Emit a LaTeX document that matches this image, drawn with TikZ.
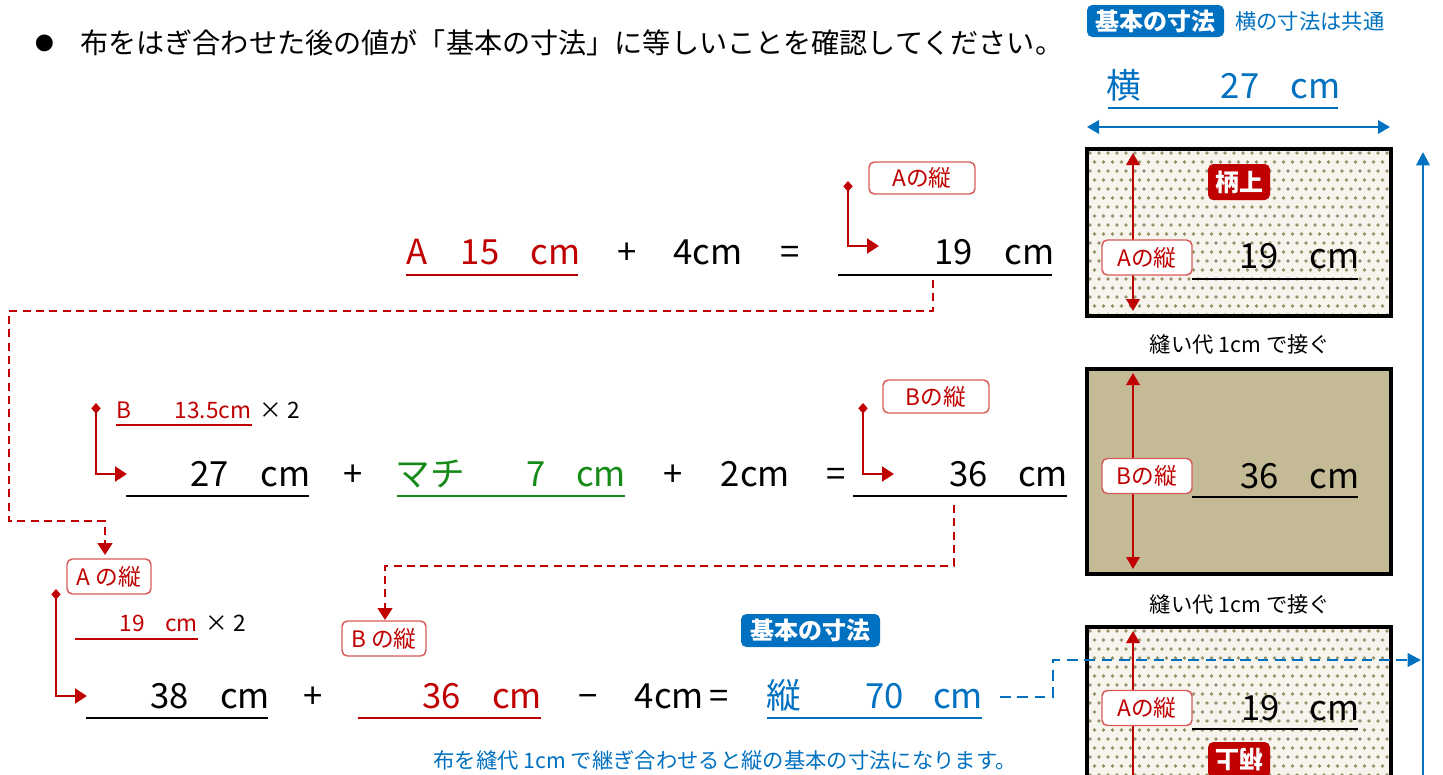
\documentclass[tikz,border=0pt]{standalone}
\usepackage{fontspec}
\setmainfont{Noto Sans CJK JP}
\usetikzlibrary{arrows.meta}
\definecolor{myred}{HTML}{C00000}
\definecolor{lblred}{HTML}{D85A5A}
\definecolor{mygreen}{HTML}{168A16}
\definecolor{myblue}{HTML}{0070C0}
\definecolor{fabrictan}{HTML}{C4BB96}
\definecolor{dotbg}{HTML}{F6F4EC}
\definecolor{dotfg}{HTML}{9A926C}
\newcommand\fmain{\fontsize{26}{30}\selectfont}
\newcommand\fsm{\fontsize{17}{20}\selectfont}
\newcommand\flab{\fontsize{17}{20}\selectfont}
\newcommand\ftitle{\fontsize{21.1}{24}\selectfont}
\newcommand\fnote{\fontsize{16}{19}\selectfont}
\newcommand\fbadge{\fontsize{18}{21}\selectfont\bfseries}
\newcommand\dotarea[4]{%
  \begin{scope}
    \clip (#1,#2) rectangle (#3,#4);
    \fill[dotbg] (#1,#2) rectangle (#3,#4);
    \foreach \j in {0,...,19} {
      \foreach \i in {0,...,34} {
        \pgfmathsetmacro\xx{#1+3+9*\i+4.5*mod(\j,2)}
        \pgfmathsetmacro\yy{#2+4+9*\j}
        \fill[dotfg] (\xx,\yy) circle[radius=1.35pt];
      }
    }
  \end{scope}}
\begin{document}
\begin{tikzpicture}[x=0.75pt,y=-0.75pt,
  t/.style={inner sep=0pt, anchor=base, font=\fmain},
  ts/.style={inner sep=0pt, anchor=base, font=\fsm},
  lbl/.style={draw=lblred, line width=1.1pt, fill=white, rounded corners=4pt, text=myred, font=\flab, inner sep=0pt, minimum height=25pt},
  badge/.style={fill=#1, rounded corners=4pt, text=white, font=\fbadge, inner sep=0pt},
  uline/.style={line width=1.9pt},
  thinline/.style={line width=1.1pt},
  ptr/.style={draw=myred, line width=2.2pt, {Diamond[length=8pt,width=7pt]}-{Triangle[length=9pt,width=11pt]}},
  rdash/.style={draw=myred, line width=2pt, dash pattern=on 6pt off 4pt, -{Triangle[length=9pt,width=11pt]}},
  fabric/.style={line width=3pt, draw=black},
  redarrow/.style={draw=myred, line width=1.8pt},
  bluearrow/.style={draw=myblue, line width=1.8pt}
]
\useasboundingbox (0,0) rectangle (1443,775);

% ---------- title ----------
\node[inner sep=0pt, font=\fontsize{14}{16}\selectfont] (bul) at (45,43) {●};
\node[inner sep=0pt, anchor=west, font=\ftitle] (title) at (80,43) {布をはぎ合わせた後の値が「基本の寸法」に等しいことを確認してください。};

% ---------- top right header ----------
\node[badge=myblue, minimum width=102.75pt, minimum height=24pt] (kihon1) at (1155.5,21) {基本の寸法};
\node[inner sep=0pt, anchor=west, font=\fnote, text=myblue] (yokonote) at (1235,21) {横の寸法は共通};
\node[t, text=myblue] (yoko) at (1124,98) {横};
\node[t, text=myblue] (yoko27) at (1240,98) {27};
\node[t, text=myblue] (yokocm) at (1315.5,98) {cm};
\draw[uline, myblue] (1108,108) -- (1338,108);
\coordinate (hl) at (1087,127);
\coordinate (hr) at (1390,127);
\draw[bluearrow, {Triangle[length=9pt,width=10pt]}-{Triangle[length=9pt,width=10pt]}] (hl) -- (hr);

% ---------- fabric box 1 ----------
\dotarea{1087}{149}{1391}{316}
\draw[fabric] (1087,149) rectangle (1391,316);
\coordinate (a1t) at (1133,153);
\coordinate (a1b) at (1133,311);
\draw[redarrow, {Triangle[length=9pt,width=10pt]}-{Triangle[length=9pt,width=10pt]}] (a1t) -- (a1b);
\node[badge=myred, minimum width=46.5pt, minimum height=27pt] (gara1) at (1239,182) {柄上};
\node[lbl, minimum width=67.5pt, minimum height=26.25pt] (lblbox1) at (1147,257.5) {Aの縦};
\node[t, text=black] (b1n) at (1259,268) {19};
\node[t, text=black] (b1u) at (1334.5,268) {cm};
\draw[uline] (1192,279) -- (1358,279);

\node[inner sep=0pt, font=\fnote] (nui1) at (1240,344) {縫い代 1cm で接ぐ};

% ---------- fabric box 2 ----------
\fill[fabrictan] (1087,369) rectangle (1391,574);
\draw[fabric] (1087,369) rectangle (1391,574);
\coordinate (a2t) at (1133,373);
\coordinate (a2b) at (1133,569);
\draw[redarrow, {Triangle[length=9pt,width=10pt]}-{Triangle[length=9pt,width=10pt]}] (a2t) -- (a2b);
\node[lbl, minimum width=67.5pt, minimum height=26.25pt] (lblbox2) at (1147,476) {Bの縦};
\node[t, text=black] (b2n) at (1259.5,488) {36};
\node[t, text=black] (b2u) at (1334.5,488) {cm};
\draw[uline] (1192,497) -- (1358,497);

\node[inner sep=0pt, font=\fnote] (nui2) at (1240,604) {縫い代 1cm で接ぐ};

% ---------- fabric box 3 ----------
\dotarea{1087}{627}{1391}{780}
\begin{scope}
\clip (1080,620) rectangle (1400,775);
\draw[fabric] (1087,627) rectangle (1391,790);
\end{scope}
\coordinate (a3t) at (1133,631);
\coordinate (a3b) at (1133,775);
\draw[redarrow, -{Triangle[length=9pt,width=10pt]}] (a3b) -- (a3t);
\node[lbl, minimum width=67.5pt, minimum height=26.25pt] (lblbox3) at (1147,708) {Aの縦};
\node[t, text=black] (b3n) at (1260.5,720) {19};
\node[t, text=black] (b3u) at (1334.5,720) {cm};
\draw[uline] (1192,729) -- (1358,729);
\begin{scope}
\clip (1080,620) rectangle (1400,775);
\node[badge=myred, minimum width=46.5pt, minimum height=27pt, rotate=180] (gara2) at (1239,760) {柄上};
\end{scope}

% ---------- right blue arrows ----------
\coordinate (vb) at (1423,775);
\coordinate (vt) at (1423,152);
\draw[bluearrow, -{Triangle[length=10pt,width=10pt]}] (vb) -- (vt);

% ---------- row 1 ----------
\node[t, text=myred] (r1a) at (417,264) {A};
\node[t, text=myred] (r1n) at (480,264) {15};
\node[t, text=myred] (r1u) at (555.5,264) {cm};
\draw[uline, myred] (406,275) -- (578,275);
\node[t] (r1p) at (627,264) {+};
\node[t] (r1four) at (708,264) {4cm};
\node[t] (r1eq) at (790,264) {=};
\node[t] (r1rn) at (953.5,264) {19};
\node[t] (r1ru) at (1029.5,264) {cm};
\draw[uline] (838,275) -- (1052,275);
\node[lbl, minimum width=79.5pt, minimum height=24pt] (lbl1) at (922,178) {Aの縦};
\coordinate (p1s) at (848,181);
\coordinate (p1e) at (879,246);
\draw[ptr] (p1s) |- (p1e);

% ---------- row 2 ----------
\node[ts, text=myred] (r2sb) at (123.5,418) {B};
\node[ts, text=myred] (r2sn) at (213,418) {13.5cm};
\draw[thinline, myred] (116,425) -- (252,425);
\node[ts] (r2sx) at (280,418) {× 2};
\coordinate (p2s) at (96,403);
\coordinate (p2e) at (127,474);
\draw[ptr] (p2s) |- (p2e);
\node[t] (r2n) at (209.5,486) {27};
\node[t] (r2u) at (285.5,486) {cm};
\draw[uline] (126,496) -- (309,496);
\node[t] (r2p1) at (353,486) {+};
\node[t, text=mygreen] (r2m) at (430,486) {マチ};
\node[t, text=mygreen] (r2mn) at (536.5,486) {7};
\node[t, text=mygreen] (r2mu) at (601,486) {cm};
\draw[uline, mygreen] (397,496) -- (625,496);
\node[t] (r2p2) at (673,486) {+};
\node[t] (r2two) at (755.5,486) {2cm};
\node[t] (r2eq) at (836,486) {=};
\node[lbl, minimum width=79.5pt, minimum height=24.75pt] (lbl2) at (936,396.5) {Bの縦};
\coordinate (p3s) at (863,403);
\coordinate (p3e) at (894,474);
\draw[ptr] (p3s) |- (p3e);
\node[t] (r2rn) at (968.5,486) {36};
\node[t] (r2ru) at (1043,486) {cm};
\draw[uline] (853,496) -- (1067,496);

% ---------- row 3 ----------
\node[lbl, minimum width=63pt, minimum height=26.25pt] (lbl3) at (109,576.5) {A の縦};
\node[ts, text=myred] (r3sn) at (132,631) {19};
\node[ts, text=myred] (r3su) at (181.5,631) {cm};
\draw[thinline, myred] (75,639) -- (198,639);
\node[ts] (r3sx) at (226,631) {× 2};
\coordinate (p4s) at (56,589);
\coordinate (p4e) at (87,696);
\draw[ptr] (p4s) |- (p4e);
\node[t] (r3n) at (169.5,708) {38};
\node[t] (r3u) at (245,708) {cm};
\draw[uline] (86,718) -- (268,718);
\node[t] (r3p) at (313,708) {+};
\node[lbl, minimum width=63pt, minimum height=26.25pt] (lbl4) at (384,638.5) {B の縦};
\node[t, text=myred] (r3bn) at (441.5,708) {36};
\node[t, text=myred] (r3bu) at (517,708) {cm};
\draw[uline, myred] (358,718) -- (541,718);
\node[t] (r3m) at (588,708) {−};
\node[t] (r3four) at (669.5,708) {4cm};
\node[t] (r3eq) at (719.5,708) {=};
\node[badge=myblue, minimum width=104.25pt, minimum height=24.75pt] (kihon2) at (810.5,630.5) {基本の寸法};
\node[t, text=myblue] (r3tate) at (784,708) {縦};
\node[t, text=myblue] (r3tn) at (884.5,708) {70};
\node[t, text=myblue] (r3tu) at (958,708) {cm};
\draw[uline, myblue] (767,718) -- (982,718);
\node[inner sep=0pt, font=\fnote, text=myblue] (note) at (725,760) {布を縫代 1cm で継ぎ合わせると縦の基本の寸法になります。};

% ---------- dashed connectors ----------
\coordinate (d1s) at (933,280);
\coordinate (d1e) at (105,555);
\draw[rdash] (d1s) -- (933,311) -- (9,311) -- (9,521) -- (105,521) -- (d1e);
\coordinate (d2s) at (954,505);
\coordinate (d2e) at (385,620);
\draw[rdash] (d2s) -- (954,566) -- (385,566) -- (d2e);
\coordinate (d3s) at (1000,697);
\coordinate (d3e) at (1421,660);
\draw[draw=myblue, line width=2.2pt, dash pattern=on 8pt off 5pt, -{Triangle[length=10pt,width=10pt]}] (d3s) -- (1053,697) -- (1053,660) -- (d3e);
\end{tikzpicture}
\end{document}
